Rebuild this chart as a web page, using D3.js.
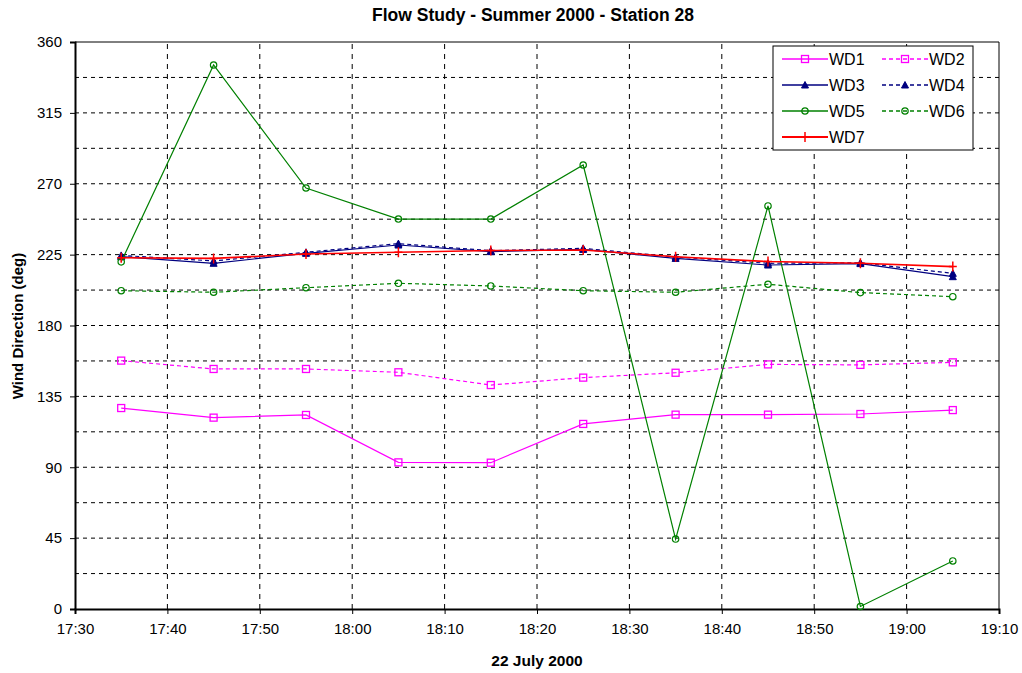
<!DOCTYPE html>
<html>
<head>
<meta charset="utf-8">
<script src="https://cdn.jsdelivr.net/npm/d3@7"></script>
<style>
  body { margin: 0; background: #fff; }
  svg text { font-family: "Liberation Sans", Arial, sans-serif; }
</style>
</head>
<body>
<svg id="chart" width="1022" height="673"></svg>
<script>
// ----------------------------------------------
// data

const times = ['17:35', '17:45', '17:55', '18:05', '18:15', '18:25', '18:35', '18:45', '18:55', '19:05'];

const wd1 = [127.6, 121.5, 123.2, 93.1, 92.9, 117.5, 123.4, 123.4, 123.8, 126.3];
const wd2 = [157.7, 152.4, 152.4, 150.3, 142.2, 146.9, 150.0, 155.3, 155.0, 156.6];
const wd3 = [223.7, 219.5, 225.8, 231.1, 226.9, 228.3, 222.6, 218.4, 219.3, 211.0];
const wd4 = [224.5, 221.0, 226.5, 232.0, 227.5, 229.0, 223.5, 219.5, 219.8, 213.1];
const wd5 = [220.4, 345.4, 267.3, 247.6, 247.6, 281.9, 44.4, 255.9, 1.6, 30.5];
const wd6 = [202.1, 201.1, 204.0, 206.8, 205.1, 202.1, 201.1, 206.2, 200.9, 198.3];
const wd7 = [223.0, 222.6, 225.4, 226.5, 227.6, 227.9, 223.7, 220.6, 219.5, 217.4];

const series_names = ['WD1', 'WD2', 'WD3', 'WD4', 'WD5', 'WD6', 'WD7'];
const y_ticks = [0, 45, 90, 135, 180, 225, 270, 315, 360];

// ----------------------------------------------

const styles = {
  WD1: { color: '#ff00ff', dash: null, marker: 'square' },
  WD2: { color: '#ff00ff', dash: '4,3', marker: 'square' },
  WD3: { color: '#000080', dash: null, marker: 'triangle' },
  WD4: { color: '#000080', dash: '4,3', marker: 'triangle' },
  WD5: { color: '#008000', dash: null, marker: 'circle' },
  WD6: { color: '#008000', dash: '4,3', marker: 'circle' },
  WD7: { color: '#ff0000', dash: null, marker: 'plus' },
};
const values = { WD1: wd1, WD2: wd2, WD3: wd3, WD4: wd4, WD5: wd5, WD6: wd6, WD7: wd7 };

const parse = d3.timeParse('%Y-%m-%d %H:%M');
const dates = times.map((t) => parse('2000-07-22 ' + t));

const margin = { left: 75, right: 23, top: 42, bottom: 64 };
const W = 1022, H = 673;

const svg = d3.select('#chart');

const x = d3.scaleTime()
  .domain([parse('2000-07-22 17:30'), parse('2000-07-22 19:10')])
  .range([margin.left, W - margin.right]);
const y = d3.scaleLinear().domain([0, 360]).range([H - margin.bottom, margin.top]);

const x_ticks = d3.timeMinute.every(10).range(x.domain()[0], d3.timeMinute.offset(x.domain()[1], 1));

// grid
const grid = svg.append('g');
grid.selectAll('line.h')
  .data(d3.range(22.5, 360, 22.5))
  .enter().append('line')
  .attr('x1', x.range()[0]).attr('x2', x.range()[1])
  .attr('y1', (d) => y(d)).attr('y2', (d) => y(d))
  .attr('stroke', '#000').attr('stroke-width', 1).attr('stroke-dasharray', '4,4');
grid.selectAll('line.v')
  .data(x_ticks.slice(1, -1))
  .enter().append('line')
  .attr('x1', (d) => x(d)).attr('x2', (d) => x(d))
  .attr('y1', y.range()[0]).attr('y2', y.range()[1])
  .attr('stroke', '#000').attr('stroke-width', 1).attr('stroke-dasharray', '5,5');

// frame (top and right)
svg.append('path')
  .attr('d', `M${x.range()[0]},${y(360)}H${x.range()[1]}V${y(0)}`)
  .attr('fill', 'none').attr('stroke', '#000').attr('stroke-width', 1);

// axes
const x_axis = svg.append('g')
  .attr('transform', `translate(0,${y(0)})`)
  .call(d3.axisBottom(x).tickValues(x_ticks).tickFormat(d3.timeFormat('%H:%M')).tickSize(5).tickPadding(9));
const y_axis = svg.append('g')
  .attr('transform', `translate(${margin.left},0)`)
  .call(d3.axisLeft(y).tickValues(y_ticks).tickSize(5).tickPadding(8));
[x_axis, y_axis].forEach((a) => {
  a.select('.domain').attr('stroke-width', 2);
  a.selectAll('text').attr('font-size', 15).attr('fill', '#000')
    .style('font-family', '"Liberation Sans", Arial, sans-serif');
});

// markers
function draw_marker(g, kind, color) {
  if (kind === 'square') {
    g.append('rect').attr('x', -3.5).attr('y', -3.5).attr('width', 7).attr('height', 7)
      .attr('fill', 'none').attr('stroke', color).attr('stroke-width', 1.3);
  } else if (kind === 'triangle') {
    g.append('path').attr('d', 'M0,-3.5L3.5,3L-3.5,3Z')
      .attr('fill', color).attr('stroke', color).attr('stroke-width', 1);
  } else if (kind === 'circle') {
    g.append('circle').attr('r', 3.2)
      .attr('fill', 'none').attr('stroke', color).attr('stroke-width', 1.2);
  } else {
    g.append('path').attr('d', 'M0,-5V5M-4,0H4')
      .attr('stroke', color).attr('stroke-width', 1.5);
  }
}

const line = d3.line().x((d, i) => x(dates[i])).y((d) => y(d));

series_names.forEach((name) => {
  const st = styles[name];
  const vals = values[name];
  const g = svg.append('g');
  g.append('path')
    .datum(vals)
    .attr('d', line)
    .attr('fill', 'none')
    .attr('stroke', st.color)
    .attr('stroke-width', name === 'WD7' ? 1.6 : 1.2)
    .attr('stroke-dasharray', st.dash);
  g.selectAll('g.pt')
    .data(vals)
    .enter().append('g')
    .attr('transform', (d, i) => `translate(${x(dates[i])},${y(d)})`)
    .each(function () { draw_marker(d3.select(this), st.marker, st.color); });
});

// legend
const legend = svg.append('g').attr('transform', 'translate(773,46)');
legend.append('rect').attr('width', 200).attr('height', 104)
  .attr('fill', '#fff').attr('stroke', '#000').attr('stroke-width', 1);
series_names.forEach((name, i) => {
  const st = styles[name];
  const col = i % 2, row = Math.floor(i / 2);
  const item = legend.append('g').attr('transform', `translate(${9 + col * 100},${13 + row * 26})`);
  item.append('line').attr('x1', 0).attr('x2', 46).attr('y1', 0).attr('y2', 0)
    .attr('stroke', st.color).attr('stroke-width', name === 'WD7' ? 2 : 1.4)
    .attr('stroke-dasharray', st.dash);
  draw_marker(item.append('g').attr('transform', 'translate(23,0)'), st.marker, st.color);
  item.append('text').attr('x', 47).attr('y', 6).attr('font-size', 16).text(name);
});

// titles
svg.append('text').attr('x', 533).attr('y', 21).attr('text-anchor', 'middle')
  .attr('font-size', 17.5).attr('font-weight', 'bold').text('Flow Study - Summer 2000 - Station 28');
svg.append('text').attr('x', 537).attr('y', 666).attr('text-anchor', 'middle')
  .attr('font-size', 15.5).attr('font-weight', 'bold').text('22 July 2000');
svg.append('text').attr('transform', 'translate(23,326) rotate(-90)').attr('text-anchor', 'middle')
  .attr('font-size', 15).attr('font-weight', 'bold').text('Wind Direction (deg)');
</script>
</body>
</html>
